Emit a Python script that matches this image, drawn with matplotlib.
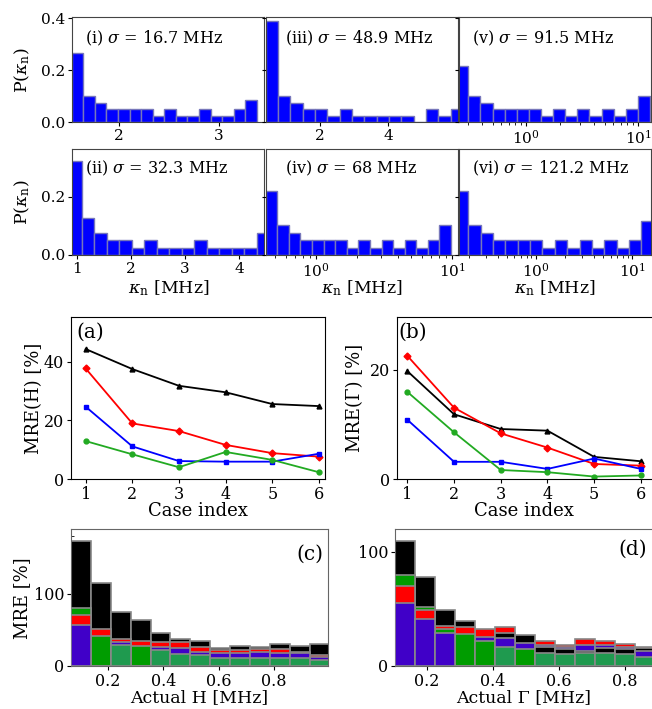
import numpy as np
import matplotlib.pyplot as plt
from matplotlib.ticker import MultipleLocator

plt.rcParams['font.family'] = ['DejaVu Serif']
plt.rcParams['mathtext.fontset'] = 'dejavuserif'

W, H = 652, 709
fig = plt.figure(figsize=(6.52, 7.09), dpi=100)


def px_axes(l, t, r, b):
    return fig.add_axes([l / W, 1 - b / H, (r - l) / W, (b - t) / H])


def fig_text(x, y, s, **kw):
    fig.text(x / W, 1 - y / H, s, ha='center', va='center', **kw)


# ---- top: distributions of kappa_n (16 bins each)
sig_labels = ['(i) $\\sigma$ = 16.7 MHz', '(ii) $\\sigma$ = 32.3 MHz',
              '(iii) $\\sigma$ = 48.9 MHz', '(iv) $\\sigma$ = 68 MHz',
              '(v) $\\sigma$ = 91.5 MHz', '(vi) $\\sigma$ = 121.2 MHz']
p_i = [0.265, 0.1, 0.075, 0.05, 0.05, 0.05, 0.05, 0.025, 0.05, 0.025, 0.025, 0.05, 0.025, 0.025, 0.05, 0.0875]
p_ii = [0.324, 0.128, 0.077, 0.051, 0.051, 0.025, 0.051, 0.025, 0.025, 0.025, 0.051, 0.025, 0.025, 0.025, 0.025, 0.077]
p_iii = [0.39, 0.1, 0.075, 0.05, 0.05, 0.025, 0.05, 0.025, 0.025, 0.025, 0.025, 0.025, 0.0, 0.05, 0.025, 0.05]
p_iv = [0.221, 0.103, 0.077, 0.051, 0.051, 0.051, 0.051, 0.025, 0.051, 0.025, 0.051, 0.025, 0.051, 0.025, 0.051, 0.103]
p_v = [0.216, 0.1, 0.075, 0.05, 0.05, 0.05, 0.05, 0.025, 0.05, 0.025, 0.05, 0.025, 0.05, 0.025, 0.05, 0.1]
p_vi = [0.221, 0.103, 0.077, 0.051, 0.051, 0.051, 0.051, 0.025, 0.051, 0.025, 0.051, 0.025, 0.051, 0.025, 0.051, 0.115]
# bin ranges of kappa_n [MHz] (log10 for the log panels)
k_range = [(1.522, 3.385), (0.862, 4.552), (0.412, 6.18),
           (-0.37, 0.993), (-0.626, 1.104), (-0.83, 1.225)]
k_xlim = [(1.527, 3.46), (0.919, 4.46), (0.412, 6.03),
          (-0.37, 1.042), (-0.598, 1.113), (-0.796, 1.198)]
k_log = [False, False, False, True, True, True]
k_xticks = [[2, 3], [1, 2, 3, 4], [2, 4], None, None, None]
p_all = [p_i, p_ii, p_iii, p_iv, p_v, p_vi]

cols = [(72.3, 264.3), (265.7, 457.7), (459.3, 651)]
rows = [(17, 122.3), (149.3, 255)]
row_ylim = [0.405, 0.3626]

for n in range(6):
    c, r = n // 2, n % 2
    ax = px_axes(cols[c][0], rows[r][0], cols[c][1], rows[r][1])
    lo, hi = k_range[n]
    if k_log[n]:
        edges = np.logspace(lo, hi, 17)
        ax.set_xscale('log')
        ax.set_xlim(10 ** k_xlim[n][0], 10 ** k_xlim[n][1])
    else:
        edges = np.linspace(lo, hi, 17)
        ax.set_xlim(*k_xlim[n])
        ax.set_xticks(k_xticks[n])
    ax.bar(edges[:-1], p_all[n], width=np.diff(edges), align='edge',
           color='#0000ff', edgecolor='#7777bb', linewidth=1.0)
    ax.set_ylim(0, row_ylim[r])
    ax.set_yticks([0.0, 0.2, 0.4] if r == 0 else [0.0, 0.2])
    ax.yaxis.set_major_formatter(plt.FormatStrFormatter('%.1f'))
    ax.tick_params(labelsize=11, labelleft=(c == 0), length=3, pad=2)
    for s in ax.spines.values():
        s.set_color('#444444')
    ax.text(0.065 if n not in (2, 3) else 0.1, 0.80 if r == 0 else 0.82,
            sig_labels[n], transform=ax.transAxes, fontsize=11.5,
            ha='left', va='center')
    if r == 1:
        fig_text((cols[c][0] + cols[c][1]) / 2, 288, '$\\kappa_{\\rm n}$ [MHz]', fontsize=12.5)

fig_text(22, 70, 'P($\\kappa_{\\rm n}$)', fontsize=12.5, rotation=90)
fig_text(22, 202, 'P($\\kappa_{\\rm n}$)', fontsize=12.5, rotation=90)

# ---- middle: MRE vs case index
case = [1, 2, 3, 4, 5, 6]
mre_h_black = [44.3, 37.5, 31.8, 29.6, 25.6, 24.9]
mre_h_red = [37.7, 19.0, 16.4, 11.7, 8.9, 7.7]
mre_h_blue = [24.7, 11.2, 6.2, 6.0, 6.0, 8.7]
mre_h_green = [13.0, 8.5, 4.1, 9.3, 6.6, 2.4]
mre_g_black = [19.8, 11.9, 9.2, 8.9, 4.1, 3.3]
mre_g_red = [22.6, 13.1, 8.4, 5.8, 2.8, 2.5]
mre_g_blue = [10.9, 3.2, 3.2, 1.9, 3.8, 1.9]
mre_g_green = [16.0, 8.6, 1.7, 1.3, 0.5, 0.7]

line_sty = [('black', '^'), ('#ff0000', 'D'), ('#0000ff', 's'), ('#22aa22', 'o')]

ax_a = px_axes(71, 317.3, 325, 479.3)
ax_b = px_axes(396.7, 316.7, 654, 479.3)
for ax, series, lab, xl, yl in [
        (ax_a, [mre_h_black, mre_h_red, mre_h_blue, mre_h_green], '(a)', (0.686, 6.13), 55.1),
        (ax_b, [mre_g_black, mre_g_red, mre_g_blue, mre_g_green], '(b)', (0.773, 6.28), 29.75)]:
    for vals, (col, mk) in zip(series, line_sty):
        ax.plot(case, vals, color=col, marker=mk, ms=3.5, lw=1.3)
    ax.set_xlim(*xl)
    ax.set_ylim(0, yl)
    ax.set_xticks(case)
    ax.yaxis.set_major_locator(MultipleLocator(20))
    ax.tick_params(labelsize=11.5, length=3, pad=2)
    ax.text(0.02 if lab == '(a)' else 0.005, 0.965, lab, transform=ax.transAxes,
            fontsize=14.5, ha='left', va='top')

fig_text(198, 511, 'Case index', fontsize=13)
fig_text(523.7, 511, 'Case index', fontsize=13)
fig_text(34, 398, 'MRE(H) [%]', fontsize=13, rotation=90)
fig_text(355, 398, 'MRE(Γ) [%]', fontsize=13, rotation=90)

# ---- bottom: overlapping MRE histograms vs actual H and Gamma (13 bins)
c_black = [174, 115, 75, 64, 45, 37.5, 35, 25, 27.5, 26.5, 30, 27.5, 30]
c_red = [71, 51, 37, 34, 32.5, 33.5, 26.5, 22, 21.5, 23, 23, 19.5, 15]
c_blue = [56, 0, 33, 0, 25.5, 24, 19.5, 18.3, 17, 19.5, 17.2, 17.2, 12.6]
c_green = [80, 41, 29, 28, 21.5, 16.3, 15, 11, 11, 11, 11, 10.3, 8]
d_black = [109.4, 78, 49, 39.5, 0, 29, 27, 16.7, 14.5, 13, 15.5, 14.5, 15.2]
d_red = [70.2, 49, 35, 33.5, 32.5, 33.7, 0, 22, 18.2, 23.4, 22, 19, 16.7]
d_blue = [55.3, 40.7, 29, 0, 25, 24, 19.6, 18.2, 16.5, 18.2, 18, 16.5, 12.9]
d_green = [79.6, 51.5, 32, 27.5, 21.5, 16, 15, 11, 10, 11, 11, 10, 7.3]
h_edges = np.linspace(0.066, 1.0, 14)
g_edges = np.linspace(0.103, 0.8895, 14)

ax_c = px_axes(71, 529.3, 328.3, 665.7)
ax_d = px_axes(395, 529.3, 654, 665.7)
for ax, edges, sets, lab, xl, yl in [
        (ax_c, h_edges, [c_black, c_red, c_blue, c_green], '(c)', (0.066, 0.996), 190),
        (ax_d, g_edges, [d_black, d_red, d_blue, d_green], '(d)', (0.103, 0.888), 119.6)]:
    hts = np.array(sets, dtype=float)
    # shortest bar of each bin is drawn in front
    order = np.argsort(-hts, axis=0)
    base_cols = np.array(['#000000', '#ff0000', '#4000c8', '#009c00'])
    for rank in range(4):
        idx = order[rank]
        h = hts[idx, np.arange(hts.shape[1])]
        cl = list(base_cols[idx])
        if rank == 3:
            cl = ['#1f9a4f' if i == 3 else cc for i, cc in zip(idx, cl)]
        ax.bar(edges[:-1], h, width=np.diff(edges), align='edge', color=cl,
               edgecolor='#888888', linewidth=1.2, zorder=2 + rank)
    ax.set_xlim(*xl)
    ax.set_ylim(0, yl)
    ax.set_xticks([0.2, 0.4, 0.6, 0.8])
    ax.yaxis.set_major_locator(MultipleLocator(100))
    ax.yaxis.set_minor_locator(MultipleLocator(20))
    ax.tick_params(labelsize=11.5, length=3, pad=2)
    ax.tick_params(axis='y', which='minor', direction='in', length=2)
    for s in ax.spines.values():
        s.set_color('#666666')
    ax.text(0.982 if lab == '(c)' else 0.973, 0.885 if lab == '(c)' else 0.92, lab,
            transform=ax.transAxes, fontsize=14.5, ha='right', va='top', zorder=10)

fig_text(22, 598, 'MRE [%]', fontsize=13, rotation=90)
fig_text(199, 698, 'Actual H [MHz]', fontsize=12.5)
fig_text(523.5, 698, 'Actual Γ [MHz]', fontsize=12.5)

fig.savefig('out.png', dpi=100)
